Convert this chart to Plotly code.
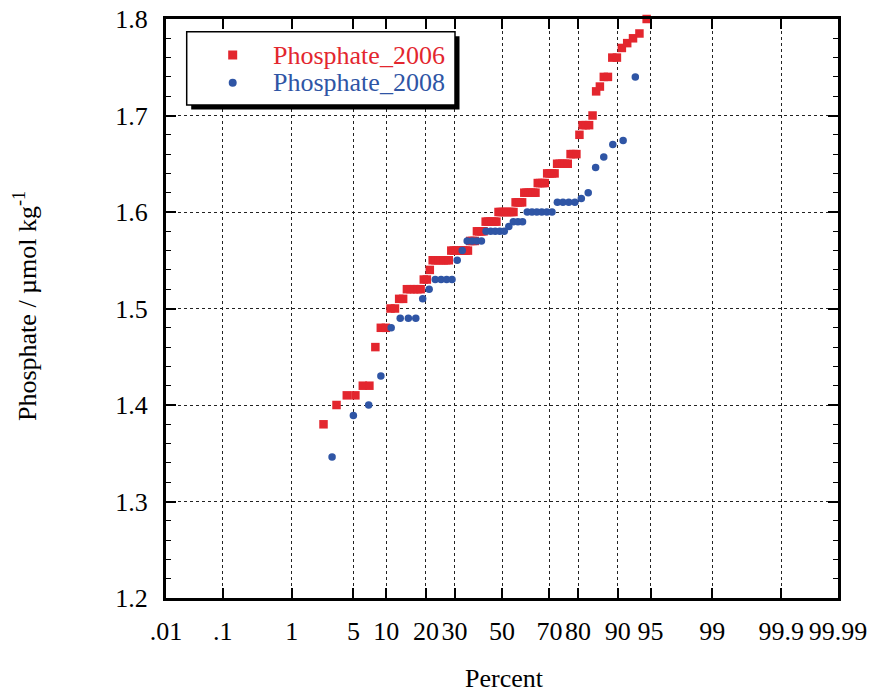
import plotly.graph_objects as go
from statistics import NormalDist

# ---------------- data ----------------
pct_2006 = [2.41, 3.35, 4.29, 5.23, 6.17, 7.11, 8.05, 8.99, 9.93, 10.87,
            11.81, 12.75, 13.69, 14.63, 15.57, 16.51, 17.45, 18.39, 19.33, 20.27,
            21.21, 22.15, 23.09, 24.03, 24.97, 25.91, 26.85, 27.79, 28.73, 29.67,
            30.61, 31.55, 32.49, 33.43, 34.37, 35.31, 36.25, 37.19, 38.13, 39.07,
            40.01, 40.95, 41.89, 42.83, 43.77, 44.71, 45.65, 46.59, 47.53, 48.47,
            49.41, 50.35, 51.29, 52.23, 53.17, 54.11, 55.05, 55.99, 56.93, 57.87,
            58.81, 59.75, 60.69, 61.63, 62.57, 63.51, 64.45, 65.39, 66.33, 67.27,
            68.21, 69.15, 70.09, 71.03, 71.97, 72.91, 73.85, 74.79, 75.73, 76.67,
            77.61, 78.55, 79.49, 80.43, 81.37, 82.31, 83.25, 84.19, 85.13, 86.07,
            87.01, 87.95, 88.89, 89.83, 90.77, 91.71, 92.65, 93.59, 94.53]
phos_2006 = [1.38, 1.40, 1.41, 1.41, 1.42, 1.42, 1.46, 1.48, 1.48, 1.50,
             1.50, 1.51, 1.51, 1.52, 1.52, 1.52, 1.52, 1.52, 1.53, 1.53,
             1.54, 1.55, 1.55, 1.55, 1.55, 1.55, 1.55, 1.55, 1.56, 1.56,
             1.56, 1.56, 1.56, 1.56, 1.56, 1.56, 1.57, 1.57, 1.57, 1.58,
             1.58, 1.58, 1.58, 1.59, 1.59, 1.59, 1.59, 1.59, 1.59, 1.60,
             1.60, 1.60, 1.60, 1.60, 1.60, 1.60, 1.60, 1.61, 1.61, 1.61,
             1.61, 1.62, 1.62, 1.62, 1.62, 1.62, 1.62, 1.63, 1.63, 1.63,
             1.63, 1.64, 1.64, 1.64, 1.64, 1.65, 1.65, 1.65, 1.65, 1.65,
             1.66, 1.66, 1.66, 1.68, 1.69, 1.69, 1.69, 1.70, 1.725, 1.73,
             1.74, 1.74, 1.76, 1.76, 1.77, 1.775, 1.78, 1.785, 1.80]

pct_2008 = [3, 5, 7, 9, 11, 13, 15, 17, 19, 21,
            23, 25, 27, 29, 31, 33, 35, 37, 39, 41,
            43, 45, 47, 49, 51, 53, 55, 57, 59, 61,
            63, 65, 67, 69, 71, 73, 75, 77, 79, 81,
            83, 85, 87, 89, 91, 93]
phos_2008 = [1.346, 1.389, 1.40, 1.43, 1.48, 1.49, 1.49, 1.49, 1.51, 1.52,
             1.53, 1.53, 1.53, 1.53, 1.55, 1.56, 1.57, 1.57, 1.57, 1.57,
             1.58, 1.58, 1.58, 1.58, 1.58, 1.585, 1.59, 1.59, 1.59, 1.60,
             1.60, 1.60, 1.60, 1.60, 1.60, 1.61, 1.61, 1.61, 1.61, 1.614,
             1.62, 1.646, 1.657, 1.67, 1.674, 1.74]

tick_pct = [0.01, 0.1, 1, 5, 10, 20, 30, 50, 70, 80, 90, 95, 99, 99.9, 99.99]
tick_txt = [".01", ".1", "1", "5", "10", "20", "30", "50", "70", "80", "90",
            "95", "99", "99.9", "99.99"]

name_2006 = "Phosphate_2006"
name_2008 = "Phosphate_2008"
RED = "#E3262E"
BLUE = "#2F55A5"
FONT = "Liberation Serif, Times New Roman, serif"

# ---------------- probability scale ----------------
nd = NormalDist()
def z(p):
    return nd.inv_cdf(p / 100.0)

zmax = z(99.99)

fig = go.Figure()
fig.add_trace(go.Scatter(
    x=[z(p) for p in pct_2006], y=phos_2006, mode="markers", name=name_2006,
    marker=dict(symbol="square", size=8.5, color=RED, line=dict(width=0)),
    cliponaxis=False, showlegend=False))
fig.add_trace(go.Scatter(
    x=[z(p) for p in pct_2008], y=phos_2008, mode="markers", name=name_2008,
    marker=dict(symbol="circle", size=7.5, color=BLUE, line=dict(width=0)),
    cliponaxis=False, showlegend=False))

# ---------------- layout geometry ----------------
W, H = 869, 694
L, R, T, B = 166, 838, 19, 598
def px(xp):
    return (xp - L) / (R - L)
def py(yp):
    return (B - yp) / (B - T)

axis_common = dict(
    showline=True, linewidth=3, linecolor="black", mirror="ticks",
    ticks="inside", ticklen=10, tickwidth=1.5, tickcolor="black",
    showgrid=True, gridcolor="#222222", gridwidth=1.3, griddash="3px,3px",
    zeroline=False, automargin=False,
    tickfont=dict(family=FONT, size=26, color="black"),
)

fig.update_layout(
    width=W, height=H,
    margin=dict(l=L, r=W - R, t=T, b=H - B, autoexpand=False),
    paper_bgcolor="white", plot_bgcolor="white",
    font=dict(family=FONT, size=26, color="black"),
    xaxis=dict(range=[-zmax, zmax], tickmode="array",
               tickvals=[z(p) for p in tick_pct], ticktext=tick_txt,
               ticklabelstandoff=8, **axis_common),
    yaxis=dict(range=[1.2, 1.8], dtick=0.1, tick0=1.2, tickformat=".1f",
               ticklabelstandoff=10,
               minor=dict(dtick=0.02, ticks="inside", ticklen=5, tickwidth=1.2,
                          tickcolor="black", showgrid=False),
               **axis_common),
)

# ---------------- legend box (drawn) ----------------
bx0, bx1, by0, by1 = 186.7, 455, 31.7, 105
sh = 4.5
fig.add_shape(type="rect", xref="paper", yref="paper",
              x0=px(bx0 + sh), x1=px(bx1 + sh), y0=py(by0 + sh), y1=py(by1 + sh),
              fillcolor="black", line=dict(width=0), layer="above")
fig.add_shape(type="rect", xref="paper", yref="paper",
              x0=px(bx0), x1=px(bx1), y0=py(by0), y1=py(by1),
              fillcolor="white", line=dict(color="black", width=1.5), layer="above")
sx, sy1, sy2 = 232.7, 55, 82.7
fig.add_shape(type="rect", xref="paper", yref="paper",
              x0=px(sx - 4.5), x1=px(sx + 4.5), y0=py(sy1 - 4.5), y1=py(sy1 + 4.5),
              fillcolor=RED, line=dict(width=0), layer="above")
fig.add_shape(type="circle", xref="paper", yref="paper",
              x0=px(sx - 4), x1=px(sx + 4), y0=py(sy2 - 4), y1=py(sy2 + 4),
              fillcolor=BLUE, line=dict(width=0), layer="above")
fig.add_annotation(text=name_2006, xref="paper", yref="paper", x=px(271), y=py(sy1),
                   xanchor="left", yanchor="middle", showarrow=False,
                   font=dict(family=FONT, size=26, color=RED))
fig.add_annotation(text=name_2008, xref="paper", yref="paper", x=px(271), y=py(sy2),
                   xanchor="left", yanchor="middle", showarrow=False,
                   font=dict(family=FONT, size=26, color=BLUE))

# ---------------- axis titles ----------------
fig.add_annotation(text="Phosphate / \u00b5mol kg<sup>-1</sup>", xref="paper", yref="paper",
                   x=px(25), y=py(306), textangle=-90, xanchor="center", yanchor="middle",
                   showarrow=False, font=dict(family=FONT, size=26, color="black"))
fig.add_annotation(text="Percent", xref="paper", yref="paper",
                   x=px(504), y=py(678), xanchor="center", yanchor="middle",
                   borderpad=0, showarrow=False,
                   font=dict(family=FONT, size=26, color="black"))

fig.write_html("out.html", config={"displayModeBar": False},
               post_script="document.body.style.margin='0px';")
